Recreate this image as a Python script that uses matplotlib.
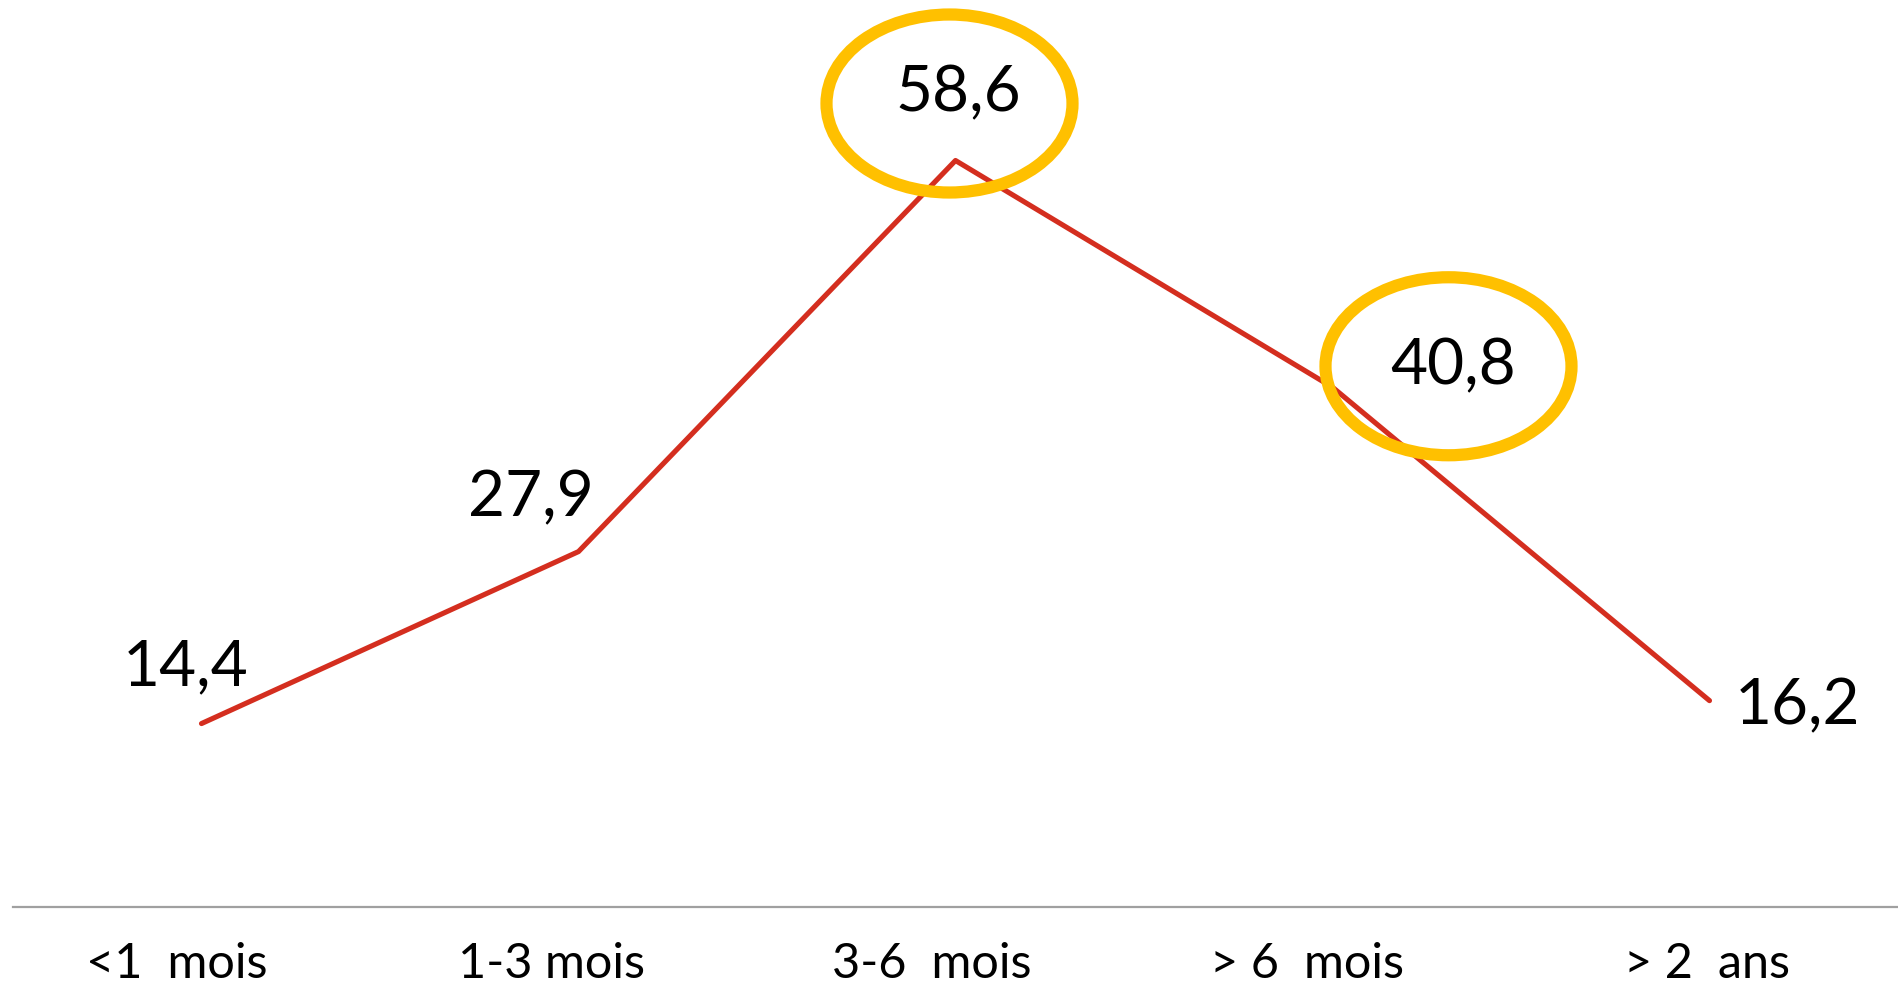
import matplotlib
matplotlib.use("Agg")
import matplotlib.pyplot as plt
from matplotlib.patches import Ellipse
from matplotlib.transforms import Affine2D, ScaledTranslation

# Durée d'arrêt de travail – pourcentages par catégorie
categories = ["<1  mois", "1-3 mois", "3-6  mois", "> 6  mois", "> 2  ans"]
values = [14.4, 27.9, 58.6, 40.8, 16.2]
value_labels = ["14,4", "27,9", "58,6", "40,8", "16,2"]
highlighted = [2, 3]  # points circled in gold

LINE_COLOR = "#D42E1F"
RING_COLOR = "#FFC000"
AXIS_COLOR = "#A0A0A0"

plt.rcParams["font.family"] = ["Lato", "DejaVu Sans"]

DPI = 100
fig = plt.figure(figsize=(18.98, 9.91), dpi=DPI)
ax = fig.add_axes([13 / 1898, 84 / 991, 1 - 13 / 1898, 1 - 84 / 991])

x = list(range(len(categories)))
ax.plot(x, values, color=LINE_COLOR, lw=3.7, solid_capstyle="round",
        solid_joinstyle="round", zorder=3)

ax.set_xlim(-0.5, len(categories) - 0.5)
ax.set_ylim(0, 71.2)

# value labels: offsets in pixels (dx, dy of baseline from the point)
label_offsets = [(-16, 38), (-48, 35), (3, 49), (121, 3), (88, -24)]
for i, (v, txt, (dx, dy)) in enumerate(zip(values, value_labels, label_offsets)):
    ax.annotate(txt, (i, v), xytext=(dx, dy), textcoords="offset pixels",
                ha="center", va="baseline", fontsize=46, color="black",
                zorder=5)

# gold rings around the highlighted values
ring_offsets = {2: (-6, 57), 3: (116, 21)}
for i in highlighted:
    dx, dy = ring_offsets[i]
    tr = Affine2D().translate(dx, dy) + ScaledTranslation(i, values[i], ax.transData)
    ax.add_patch(Ellipse((0, 0), 246, 178, transform=tr, fill=False,
                         edgecolor=RING_COLOR, lw=8.8, zorder=4, clip_on=False))

for side in ["left", "right", "top"]:
    ax.spines[side].set_visible(False)
ax.spines["bottom"].set_color(AXIS_COLOR)
ax.spines["bottom"].set_linewidth(1.6)
ax.set_yticks([])
ax.set_xticks(x)
ax.set_xticklabels(categories, fontsize=35)
ax.tick_params(axis="x", length=0, pad=51)
tick_shift = [-25, -27, -24, -26, -3]
for lab, s in zip(ax.get_xticklabels(), tick_shift):
    lab.set_va("baseline")
    lab.set_transform(lab.get_transform() + Affine2D().translate(s, 0))

fig.savefig("out.png", dpi=DPI)
